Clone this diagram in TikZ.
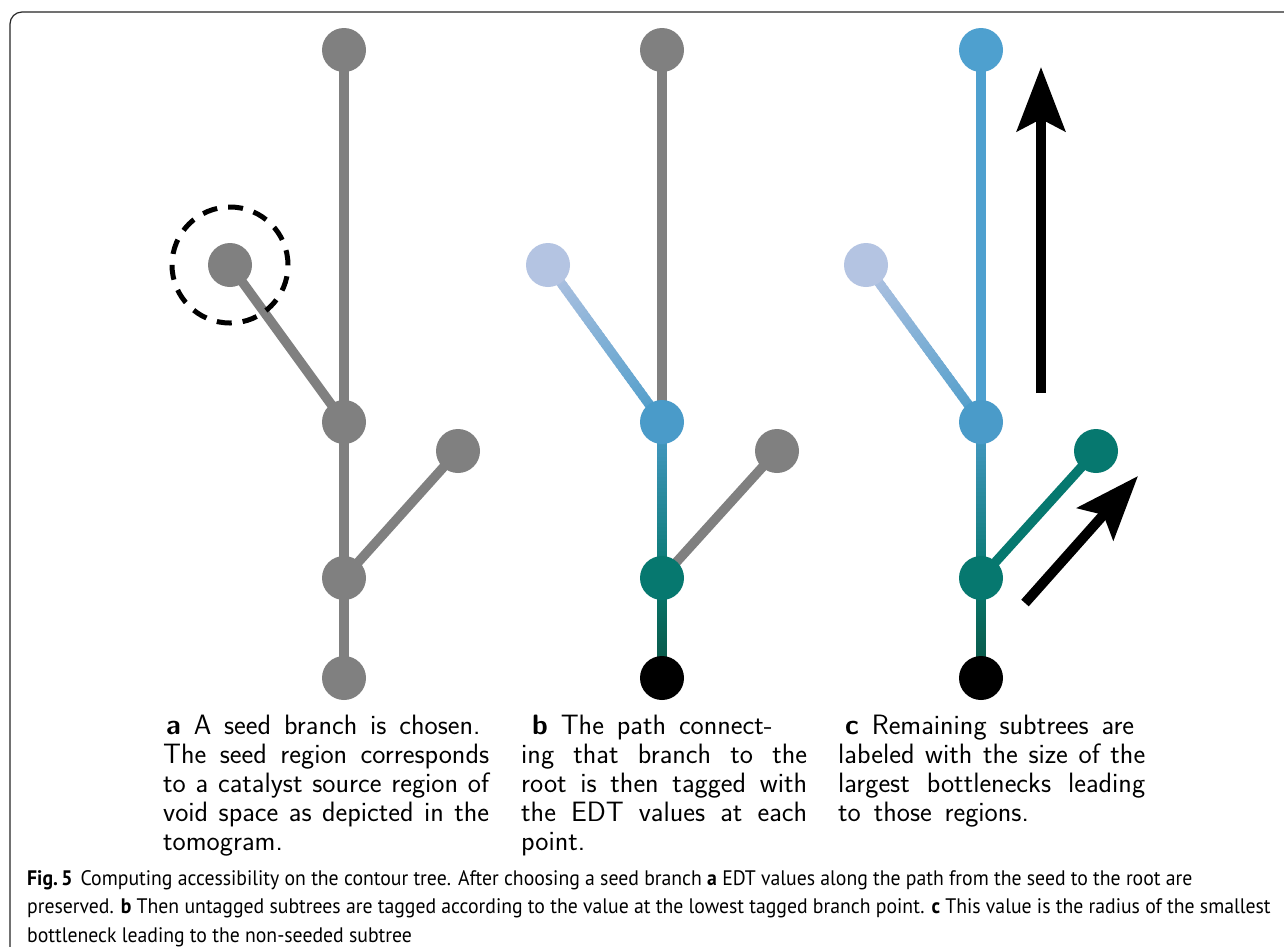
\documentclass[tikz,border=0pt]{standalone}
\usepackage{fontspec}
\newfontfamily\capfont[FakeStretch=0.94]{PT Sans}
\usetikzlibrary{arrows.meta,calc,backgrounds}

\definecolor{treegray}{HTML}{808080}
\definecolor{seedlav}{HTML}{B4C4E2}
\definecolor{edtblue}{HTML}{4A9BC9}
\definecolor{edttop}{HTML}{4EA0CF}
\definecolor{edtteal}{HTML}{06786F}
\definecolor{edtdark}{HTML}{0B5443}

\newcommand{\widespace}{\spaceskip=0.46em plus 0.25em minus 0.2em\relax}

\tikzset{
  pt/.style={circle,fill=#1,minimum size=44pt,inner sep=0pt},
  edge/.style={line width=9.5pt,draw=#1},
  fatarrow/.style={line width=10pt,-{Stealth[length=64pt,width=48pt,inset=12pt]}},
  panel/.style={anchor=north west,inner sep=0pt,text width=#1,align=justify,
    font=\fontsize{28}{29}\selectfont\sffamily},
}

% edge whose colour runs from #3 at node #1 to #4 at node #2
\newcommand{\gradedge}[4]{%
  \foreach \i in {0,...,39} {
    \pgfmathsetmacro{\pa}{\i/40}
    \pgfmathsetmacro{\pb}{min(1,(\i+1.6)/40)}
    \pgfmathsetmacro{\mixv}{100-(\i+0.5)*2.5}
    \draw[line width=9.5pt,color=#3!\mixv!#4] ($(#1.center)!\pa!(#2.center)$) -- ($(#1.center)!\pb!(#2.center)$);
  }
}

\begin{document}
\begin{tikzpicture}[x=1pt,y=-1pt]
  \useasboundingbox (0,0) rectangle (1284,946);
  \draw[line width=1.2pt,rounded corners=12pt,black!85] (10,990) -- (10,12) -- (1330,12);

  % panel a
  \node[pt=treegray] (atop) at (344,50) {};
  \node[pt=treegray] (aseed) at (230,265) {};
  \node[pt=treegray] (abr) at (344,422) {};
  \node[pt=treegray] (aside) at (458,451) {};
  \node[pt=treegray] (ajoin) at (344,578) {};
  \node[pt=treegray] (aroot) at (344,678) {};
  \node[circle,draw,line width=5pt,dash pattern=on 15pt off 11pt,minimum size=116pt] (aring) at (aseed) {};

  % panel b
  \node[pt=treegray] (btop) at (662,50) {};
  \node[pt=seedlav] (bseed) at (548,265) {};
  \node[pt=edtblue] (bbr) at (662,422) {};
  \node[pt=treegray] (bside) at (777,451) {};
  \node[pt=edtteal] (bjoin) at (662,578) {};
  \node[pt=black] (broot) at (662,678) {};

  % panel c
  \node[pt=edttop] (ctop) at (981,50) {};
  \node[pt=seedlav] (cseed) at (866,265) {};
  \node[pt=edtblue] (cbr) at (981,422) {};
  \node[pt=edtteal] (cside) at (1096,451) {};
  \node[pt=edtteal] (cjoin) at (981,578) {};
  \node[pt=black] (croot) at (981,678) {};

  \begin{scope}[on background layer]
    \fill[white] (0,0) rectangle (1284,946);
    \draw[edge=treegray] (atop.center) -- (abr.center) -- (ajoin.center) -- (aroot.center);
    \draw[edge=treegray] (aseed.center) -- (abr.center);
    \draw[edge=treegray] (ajoin.center) -- (aside.center);

    \draw[edge=treegray] (btop.center) -- (bbr.center);
    \draw[edge=treegray] (bjoin.center) -- (bside.center);
    \gradedge{bseed}{bbr}{seedlav}{edtblue}
    \gradedge{bbr}{bjoin}{edtblue}{edtteal}
    \gradedge{bjoin}{broot}{edtteal}{edtdark}

    \draw[edge=edttop] (ctop.center) -- (cbr.center);
    \draw[edge=edtteal] (cjoin.center) -- (cside.center);
    \gradedge{cseed}{cbr}{seedlav}{edtblue}
    \gradedge{cbr}{cjoin}{edtblue}{edtteal}
    \gradedge{cjoin}{croot}{edtteal}{edtdark}
  \end{scope}

  % arrows of panel c
  \coordinate (upfrom) at (1041,393);
  \coordinate (upto) at (1041,67);
  \draw[fatarrow] (upfrom) -- (upto);
  \coordinate (diagfrom) at (1025,603);
  \coordinate (diagto) at (1138,476);
  \draw[fatarrow] (diagfrom) -- (diagto);

  % panel texts
  \node[panel=326pt] (texta) at (163,715) {\widespace\hspace*{3pt}\textbf{a} A seed branch is chosen.\\
    The seed region corresponds\linebreak to a catalyst source region of\linebreak void space as depicted in the\linebreak tomogram.};
  \node[panel=286pt] (textb) at (521,715) {\widespace\hspace*{11pt}\textbf{b} The path connect-\\
    ing that branch to the\linebreak root is then tagged with\linebreak the EDT values at each\linebreak point.};
  \node[panel=307pt] (textc) at (838,715) {\widespace\hspace*{7pt}\textbf{c} Remaining subtrees are\\
    labeled with the size of the\linebreak largest bottlenecks leading\linebreak to those regions.};

  \node[anchor=north west,inner sep=0pt,align=left,font=\capfont\fontsize{21}{28.5}\selectfont] (figcap) at (27,870)
    {\textbf{Fig.\,5}\hspace{8pt}Computing accessibility on the contour tree. After choosing a seed branch \textbf{a} EDT values along the path from the seed to the root are\\
     preserved. \textbf{b} Then untagged subtrees are tagged according to the value at the lowest tagged branch point. \textbf{c} This value is the radius of the smallest\\
     bottleneck leading to the non-seeded subtree};
\end{tikzpicture}
\end{document}
